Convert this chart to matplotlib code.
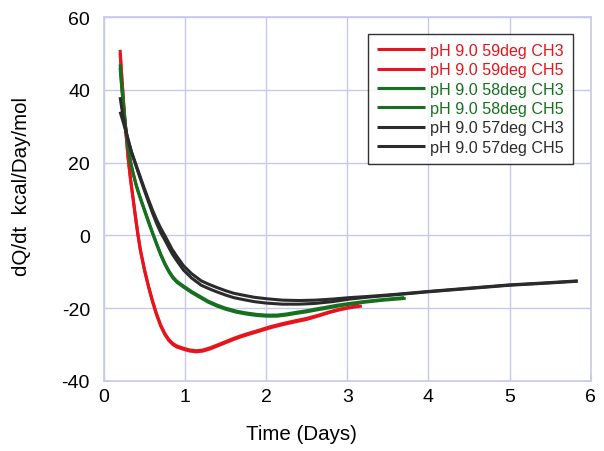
import matplotlib
matplotlib.use("Agg")
import matplotlib.pyplot as plt

plt.rcParams['font.family'] = ['Liberation Sans', 'DejaVu Sans']
plt.rcParams['axes.unicode_minus'] = False

# ---- data ----
red3_x = [0.20, 0.22, 0.24, 0.26, 0.28, 0.30, 0.33, 0.36, 0.39, 0.42, 0.45, 0.50, 0.55,
          0.60, 0.65, 0.70, 0.75, 0.80, 0.85, 0.90, 0.98, 1.06, 1.14, 1.22, 1.31, 1.40,
          1.51, 1.60, 1.70, 1.80, 1.92, 2.05, 2.21, 2.35, 2.50, 2.65, 2.78, 2.90, 3.03, 3.18]
red3_y = [51, 44, 37.5, 31.5, 26, 21, 15, 10, 4.8, 0, -4.2, -9.6, -14.2,
          -18.3, -21.9, -24.9, -27.2, -28.9, -30, -30.7, -31.3, -31.8, -32, -31.8, -31.2, -30.4,
          -29.4, -28.6, -27.8, -27.1, -26.3, -25.4, -24.5, -23.8, -23.1, -22.1, -21.2, -20.5, -19.9, -19.4]
red5_x = [0.20, 0.22, 0.24, 0.26, 0.28, 0.30, 0.33, 0.36, 0.39, 0.42, 0.45, 0.50, 0.55,
          0.60, 0.65, 0.70, 0.75, 0.80, 0.85, 0.90, 0.98, 1.06, 1.14, 1.22, 1.31, 1.40,
          1.51, 1.60, 1.70, 1.80, 1.92, 2.05, 2.21, 2.35, 2.50, 2.65, 2.78, 2.90, 3.03, 3.15]
red5_y = [50, 43.5, 37.2, 31.4, 26, 21.1, 15.2, 10.2, 5.1, 0.3, -3.9, -9.3, -13.9,
          -18.0, -21.6, -24.6, -26.9, -28.6, -29.7, -30.4, -31.0, -31.5, -31.7, -31.5, -30.9, -30.1,
          -29.1, -28.3, -27.5, -26.8, -26.0, -25.1, -24.2, -23.5, -22.8, -21.9, -21.0, -20.3, -19.7, -19.2]

grn3_x = [0.20, 0.22, 0.24, 0.26, 0.28, 0.30, 0.33, 0.36, 0.40, 0.44, 0.50, 0.55, 0.60,
          0.65, 0.70, 0.75, 0.80, 0.85, 0.90, 0.98, 1.08, 1.18, 1.28, 1.39, 1.50, 1.63,
          1.75, 1.88, 2.00, 2.13, 2.25, 2.38, 2.50, 2.62, 2.75, 2.87, 3.03, 3.20, 3.45, 3.72]
grn3_y = [47, 41, 36, 31.5, 27.5, 24, 20, 17, 13.5, 10.7, 6.8, 3.6, 0.5,
          -2.5, -5.4, -7.9, -10.0, -11.7, -12.9, -14.2, -15.7, -17, -18.3, -19.4, -20.3, -21.1,
          -21.6, -22, -22.2, -22.2, -21.9, -21.4, -21, -20.5, -20, -19.5, -18.9, -18.4, -17.8, -17.3]
grn5_x = [0.20, 0.22, 0.24, 0.26, 0.28, 0.30, 0.33, 0.36, 0.40, 0.44, 0.50, 0.55, 0.60,
          0.65, 0.70, 0.75, 0.80, 0.85, 0.90, 0.98, 1.08, 1.18, 1.28, 1.39, 1.50, 1.63,
          1.75, 1.88, 2.00, 2.13, 2.25, 2.38, 2.50, 2.62, 2.75, 2.87, 3.03, 3.20, 3.45, 3.70]
grn5_y = [46, 40.5, 35.7, 31.3, 27.4, 24, 20.2, 17.2, 13.8, 11.0, 7.1, 3.9, 0.8,
          -2.2, -5.1, -7.6, -9.7, -11.4, -12.6, -13.9, -15.4, -16.7, -18.0, -19.1, -20.0, -20.8,
          -21.3, -21.7, -21.9, -21.9, -21.6, -21.1, -20.7, -20.2, -19.7, -19.2, -18.7, -18.2, -17.6, -17.1]

blk3_x = [0.20, 0.22, 0.24, 0.26, 0.28, 0.30, 0.34, 0.39, 0.44, 0.50, 0.55, 0.60, 0.65,
          0.70, 0.75, 0.80, 0.84, 0.90, 0.98, 1.08, 1.20, 1.30, 1.39, 1.50, 1.60, 1.71,
          1.85, 2.00, 2.20, 2.41, 2.60, 2.82, 3.03, 3.24, 3.60, 4.00, 4.50, 5.00, 5.40, 5.84]
blk3_y = [38, 35, 32.5, 30, 28, 26.2, 23, 19.8, 16.6, 12.8, 9.8, 6.9, 4.3,
          2, 0, -2.1, -3.8, -5.8, -8.3, -10.5, -12.5, -13.5, -14.3, -15.2, -15.9, -16.4,
          -17, -17.4, -17.8, -17.9, -17.8, -17.5, -17.1, -16.8, -16.2, -15.4, -14.5, -13.6, -13.1, -12.5]
blk5_x = [0.20, 0.22, 0.24, 0.26, 0.28, 0.30, 0.34, 0.39, 0.44, 0.50, 0.55, 0.60, 0.65,
          0.70, 0.75, 0.80, 0.84, 0.90, 0.98, 1.08, 1.20, 1.30, 1.39, 1.50, 1.60, 1.71,
          1.85, 2.00, 2.20, 2.41, 2.60, 2.82, 3.03, 3.24, 3.60, 4.00, 4.50, 5.00, 5.40, 5.84]
blk5_y = [34, 32.5, 31, 29.4, 27.8, 26.1, 22.8, 19.5, 16.2, 12.3, 9.2, 6.1, 3.3,
          0.8, -1.2, -3.3, -5.0, -7.0, -9.5, -11.7, -13.7, -14.7, -15.5, -16.4, -17.1, -17.6,
          -18.2, -18.6, -18.9, -18.9, -18.7, -18.2, -17.5, -17.0, -16.3, -15.5, -14.6, -13.7, -13.2, -12.6]

labels = ['pH 9.0 59deg CH3', 'pH 9.0 59deg CH5', 'pH 9.0 58deg CH3',
          'pH 9.0 58deg CH5', 'pH 9.0 57deg CH3', 'pH 9.0 57deg CH5']
x_ticks = [0, 1, 2, 3, 4, 5, 6]
y_ticks = [-40, -20, 0, 20, 40, 60]

RED = '#e8141c'
GRN = '#17701f'
BLK = '#2b2b2b'
GRID = '#c8c8ec'

fig = plt.figure(figsize=(6.04, 4.52), dpi=100)
ax = fig.add_axes([0.172, 0.155, 0.806, 0.805])

series = [(red3_x, red3_y, RED), (red5_x, red5_y, RED),
          (grn3_x, grn3_y, GRN), (grn5_x, grn5_y, GRN),
          (blk3_x, blk3_y, BLK), (blk5_x, blk5_y, BLK)]
for (xs, ys, c), lab in zip(series, labels):
    ax.plot(xs, ys, color=c, lw=2.2, label=lab, solid_capstyle='butt',
            solid_joinstyle='round')

ax.set_xlim(0, 6)
ax.set_ylim(-40, 60)
ax.set_xticks(x_ticks)
ax.set_yticks(y_ticks)
ax.grid(True, color=GRID, lw=1.0)
ax.set_axisbelow(True)
for s in ax.spines.values():
    s.set_color(GRID)
    s.set_linewidth(1.2)
ax.tick_params(direction='in', color=GRID, length=5, labelsize=14,
               right=True, top=False)
ax.tick_params(axis='y', pad=10)
ax.tick_params(axis='x', pad=5)

ax.set_xlabel('Time (Days)', fontsize=14.8, labelpad=14, x=0.405)
ax.set_ylabel('dQ/dt  kcal/Day/mol', fontsize=14.8, labelpad=22, y=0.536)

leg = ax.legend(loc='upper right', bbox_to_anchor=(0.963, 0.953), borderaxespad=0,
                fontsize=11.6, frameon=True, fancybox=False, edgecolor='black',
                handlelength=3.0, handletextpad=0.3, labelspacing=0.27,
                borderpad=0.55)
leg.get_frame().set_linewidth(1.0)
for txt, (_, _, c) in zip(leg.get_texts(), series):
    txt.set_color(c)

fig.savefig('out.png', dpi=100)
